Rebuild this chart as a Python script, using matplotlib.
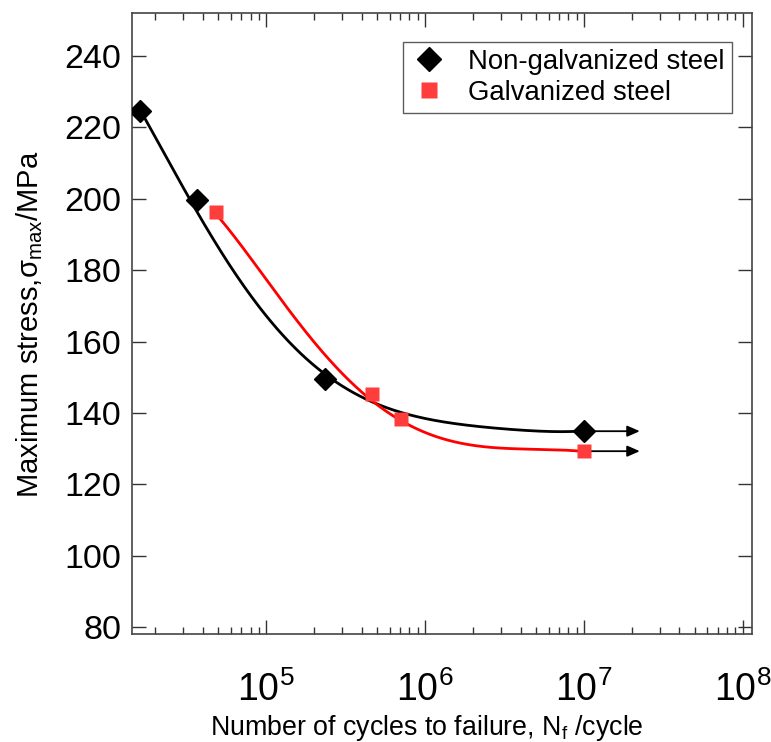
import numpy as np
import matplotlib
matplotlib.use("Agg")
import matplotlib.pyplot as plt
from matplotlib.ticker import LogLocator, NullFormatter, FixedLocator

plt.rcParams['font.family'] = ['Liberation Sans', 'DejaVu Sans']
plt.rcParams['mathtext.fontset'] = 'custom'
plt.rcParams['mathtext.rm'] = 'Liberation Sans'
plt.rcParams['mathtext.it'] = 'Liberation Sans:italic'

# measured points (cycles, stress in MPa)
plain_cycles = [1.62e4, 3.70e4, 2.35e5, 1.0e7]
plain_stress = [224.6, 199.8, 149.6, 134.9]
galv_cycles = [4.83e4, 4.68e5, 7.1e5, 1.0e7]
galv_stress = [196.2, 145.4, 138.4, 129.3]

# fitted trend lines (log10 cycles, stress)
plain_fit_logn = [4.21, 4.23, 4.30, 4.37, 4.44, 4.50, 4.58, 4.71, 4.86, 5.00, 5.17, 5.34,
                  5.50, 5.63, 5.84, 6.00, 6.16, 6.47, 6.75, 7.00]
plain_fit_s = [224.6, 223.2, 217.6, 212.0, 206.6, 201.7, 195.1, 185.7, 175.4, 167.0, 159.0, 152.0,
               147.2, 144.0, 140.3, 138.4, 137.0, 135.6, 135.1, 134.9]
galv_fit_logn = [4.68, 4.70, 4.84, 5.00, 5.17, 5.34, 5.42, 5.53, 5.63, 5.74, 5.84, 6.00,
                 6.16, 6.31, 6.47, 6.75, 7.00]
galv_fit_s = [196.2, 195.1, 186.7, 177.3, 167.9, 158.5, 153.6, 148.6, 144.5, 141.0, 137.9, 134.8,
              132.3, 131.0, 130.2, 129.6, 129.3]

# run-out arrows
runout_end = 2.25e7


def smooth_curve(logn, s, deg=5):
    # least-squares polynomial through the traced points, in log space
    coef = np.polyfit(logn, s, deg)
    xx = np.linspace(logn[0], logn[-1], 300)
    return 10 ** xx, np.polyval(coef, xx)


fig = plt.figure(figsize=(7.71, 7.42), dpi=100)
ax = fig.add_axes([0.1716, 0.1452, 0.8041, 0.8369])

x1, y1 = smooth_curve(plain_fit_logn, plain_fit_s)
x2, y2 = smooth_curve(galv_fit_logn, galv_fit_s)
ax.plot(x1, y1, color='black', lw=2.0, zorder=3)
ax.plot(x2, y2, color='#ff0000', lw=2.0, zorder=3)

for y in (plain_stress[-1], galv_stress[-1]):
    ax.annotate('', xy=(runout_end, y), xytext=(1.0e7, y),
                arrowprops=dict(arrowstyle='-|>,head_length=0.5,head_width=0.22',
                                mutation_scale=15, color='black', lw=1.3,
                                shrinkA=0, shrinkB=0), zorder=2)

ax.plot(plain_cycles, plain_stress, linestyle='none', marker='D', ms=11,
        mfc='black', mec='black', label='Non-galvanized steel', zorder=5)
ax.plot(galv_cycles, galv_stress, linestyle='none', marker='s', ms=10,
        mfc='#ff3d3d', mec='none', label='Galvanized steel', zorder=5)

ax.set_xscale('log')
ax.set_xlim(10 ** 4.159, 10 ** 8.06)
ax.set_ylim(78, 252)
ax.xaxis.set_major_locator(FixedLocator([1e5, 1e6, 1e7, 1e8]))
ax.xaxis.set_minor_locator(LogLocator(base=10, subs=np.arange(2, 10), numticks=20))
ax.xaxis.set_minor_formatter(NullFormatter())
ax.set_yticks(np.arange(80, 241, 20))

ax.tick_params(axis='both', which='major', direction='in', length=10, width=1.0,
               top=True, right=True, color='#333333')
ax.tick_params(axis='x', which='major', pad=27, labelsize=27)
ax.tick_params(axis='y', which='major', pad=8, labelsize=24.5)
ax.tick_params(axis='x', which='minor', direction='in', length=5, width=1.0,
               top=True, color='#333333')

for sp in ax.spines.values():
    sp.set_color('#444444')
    sp.set_linewidth(1.2)

ax.set_xlabel(r'Number of cycles to failure, N$_\mathregular{f}$ /cycle', fontsize=19.3, labelpad=6)
ax.xaxis.set_label_coords(0.475, -0.127)
ax.set_ylabel(r'Maximum stress,σ$_\mathregular{max}$/MPa', fontsize=21, labelpad=14)

leg = ax.legend(loc='upper right', bbox_to_anchor=(0.9668, 0.9543), borderaxespad=0,
                fontsize=19.8, frameon=True, fancybox=False, handlelength=1.42,
                handletextpad=0.72, borderpad=0.25, labelspacing=0.2, numpoints=1,
                markerscale=1.15)
leg.get_frame().set_edgecolor('#333333')
leg.get_frame().set_linewidth(1.0)

fig.savefig('out.png', dpi=100)
